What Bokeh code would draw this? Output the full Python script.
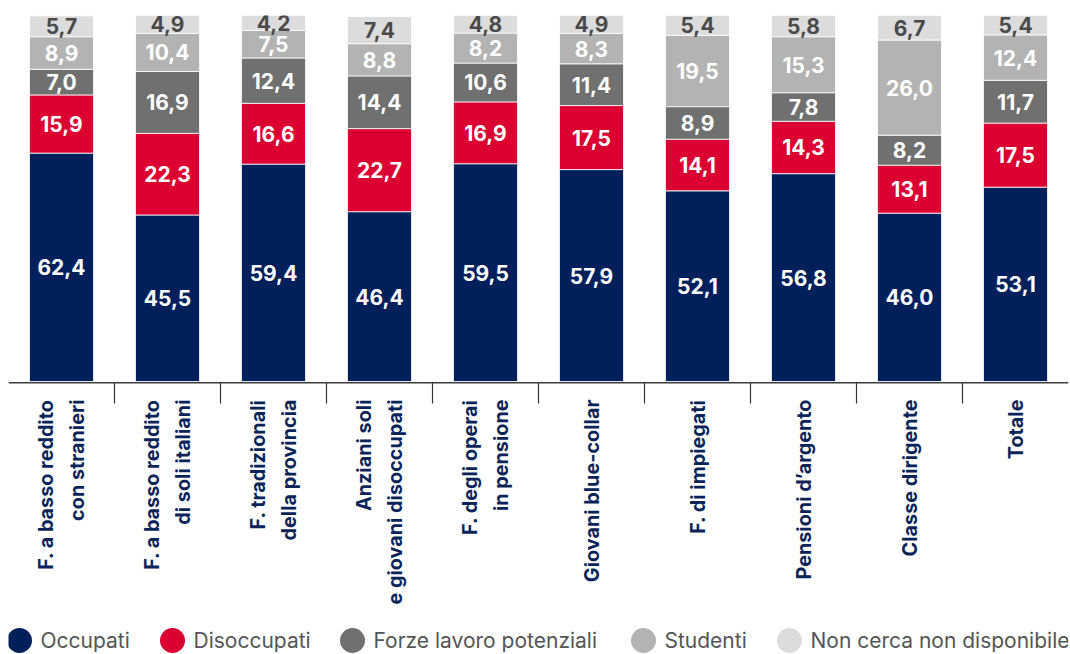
import math
import numpy as np
from bokeh.plotting import figure
from bokeh.models import ColumnDataSource, Range1d, Span
from bokeh.core.properties import value
from bokeh.embed import file_html
from bokeh.resources import INLINE

categories = [
    "F. a basso reddito\ncon stranieri",
    "F. a basso reddito\ndi soli italiani",
    "F. tradizionali\ndella provincia",
    "Anziani soli\ne giovani disoccupati",
    "F. degli operai\nin pensione",
    "Giovani blue-collar",
    "F. di impiegati",
    "Pensioni d\u2019argento",
    "Classe dirigente",
    "Totale",
]
occupati = [62.4, 45.5, 59.4, 46.4, 59.5, 57.9, 52.1, 56.8, 46.0, 53.1]
disoccupati = [15.9, 22.3, 16.6, 22.7, 16.9, 17.5, 14.1, 14.3, 13.1, 17.5]
forze_lavoro = [7.0, 16.9, 12.4, 14.4, 10.6, 11.4, 8.9, 7.8, 8.2, 11.7]
studenti = [8.9, 10.4, 7.5, 8.8, 8.2, 8.3, 19.5, 15.3, 26.0, 12.4]
non_cerca = [5.7, 4.9, 4.2, 7.4, 4.8, 4.9, 5.4, 5.8, 6.7, 5.4]
series_names = ["Occupati", "Disoccupati", "Forze lavoro potenziali", "Studenti",
                "Non cerca non disponibile"]
series = [occupati, disoccupati, forze_lavoro, studenti, non_cerca]
colors = ["#00205B", "#DC0032", "#707070", "#B3B3B3", "#DCDCDC"]
value_colors = ["white", "white", "white", "white", "#4A4A4A"]

FONT = "Inter"
W, H = 1070, 654
LEFT = 8            # frame left (page px)
TOP = 15            # frame top (page px)
BASE = 381          # zero line (page px)
PX_PER_UNIT = (BASE - TOP) / 100.0
FRAME_H = H - TOP
y_start = 100 - FRAME_H / PX_PER_UNIT
n = len(categories)
FRAME_W = 1060
PX_PER_X = FRAME_W / n


def y_at(page_y):
    return (BASE - page_y) / PX_PER_UNIT


def x_at(page_x):
    return (page_x - LEFT) / PX_PER_X


p = figure(width=W, height=H, output_backend="svg", toolbar_location=None,
           x_range=Range1d(0, n), y_range=Range1d(y_start, 100),
           x_axis_location=None, y_axis_location=None,
           min_border_left=LEFT, min_border_right=W - FRAME_W - LEFT,
           min_border_top=TOP, min_border_bottom=0)
p.outline_line_color = None
p.grid.visible = False
p.background_fill_color = "white"

xs = [i + 0.5 for i in range(n)]
data = {"x": xs}
keys = []
for k, s in enumerate(series):
    key = f"s{k}"
    keys.append(key)
    data[key] = s
src = ColumnDataSource(data)
p.vbar_stack(keys, x="x", width=0.604, color=colors, line_color="white",
             line_width=0.8, source=src)

# values in segments
arr = np.array(series)
cum = np.cumsum(arr, axis=0)
for k in range(len(series)):
    mids = cum[k] - arr[k] / 2
    labels = [f"{v:.1f}".replace(".", ",") for v in series[k]]
    p.text(x=xs, y=list(mids), text=labels, text_align="center",
           text_baseline="middle", text_font=value(FONT), text_font_style="bold",
           text_font_size="21px", text_color=value_colors[k])

# axis line
p.add_layout(Span(location=y_at(382.2), dimension="width", line_color="#3C3C3C",
                  line_width=1.6))
# separators between categories
sep_x = list(range(1, n))
p.segment(x0=sep_x, y0=[y_at(382)] * len(sep_x), x1=sep_x,
          y1=[y_at(403)] * len(sep_x), line_color="#333333", line_width=1.2)

# category labels
p.text(x=xs, y=[y_at(399)] * n, text=categories, angle=math.pi / 2,
       text_align="right", text_baseline="middle", text_font=value(FONT),
       text_font_style="bold", text_font_size="19.8px", text_color="#0A2459",
       text_line_height=1.3)

# legend
leg_centers_page = [19, 172, 352, 643, 789]
leg_y = y_at(640)
p.scatter(x=[x_at(c) for c in leg_centers_page], y=[leg_y] * 5, size=25,
          color=colors, line_color=None)
p.text(x=[x_at(c + 21) for c in leg_centers_page], y=[leg_y] * 5,
       text=series_names, text_align="left", text_baseline="middle",
       text_font=value(FONT), text_font_size="21px", text_color="#555555")

open("out.html", "w").write(file_html(p, INLINE))
